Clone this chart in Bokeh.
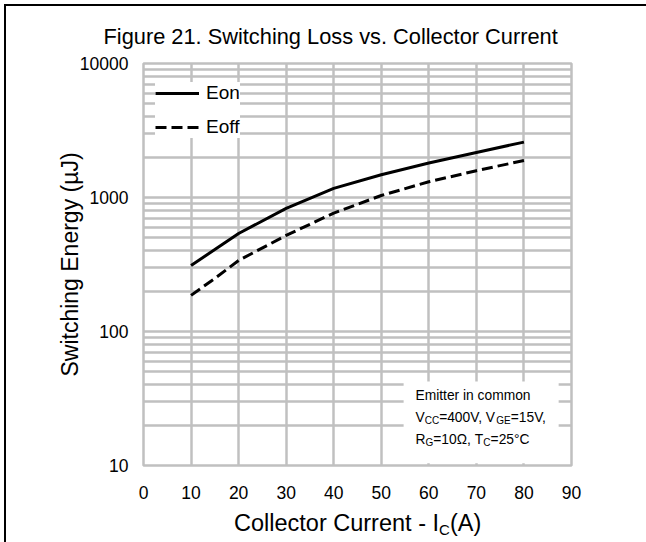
from bokeh.plotting import figure
from bokeh.layouts import column
from bokeh.models import (FixedTicker, PrintfTickFormatter, Label, BoxAnnotation,
                          Range1d, Div)
from bokeh.embed import file_html
from bokeh.resources import INLINE

# Switching energy vs collector current (V_CC=400V, V_GE=15V, R_G=10 ohm, T_C=25 C)
current_a = [10, 15, 20, 30, 40, 50, 60, 70, 80]
eon_uj = [311, 409, 539, 830, 1170, 1480, 1810, 2170, 2590]
eoff_uj = [186, 249, 339, 521, 765, 1035, 1310, 1585, 1888]

x_ticks = [0, 10, 20, 30, 40, 50, 60, 70, 80, 90]
y_ticks = [10, 100, 1000, 10000]
y_minor = [m * d for d in (10, 100, 1000) for m in range(2, 10)]

FONT = "Liberation Sans"
GRID = "#c0c0c0"

# page geometry (pixels)
LEFT, RIGHT, TOP, BOTTOM = 143, 571, 63, 465
PAGE_W, PAGE_H = 646, 542
H_FIG = 505
H_XTITLE = PAGE_H - H_FIG      # strip under the plot holding the x-axis title

p = figure(width=PAGE_W, height=H_FIG, x_range=Range1d(0, 90), y_range=Range1d(10, 10000),
           y_axis_type="log", output_backend="svg", toolbar_location=None,
           min_border_left=LEFT, min_border_right=PAGE_W - RIGHT,
           min_border_top=TOP, min_border_bottom=H_FIG - BOTTOM)
p.background_fill_color = "white"
p.border_fill_color = "white"
p.outline_line_color = GRID
p.outline_line_width = 2.5

# title
p.title.text = "Figure 21. Switching Loss vs. Collector Current"
p.title.text_font = FONT
p.title.text_font_size = "21.8px"
p.title.text_font_style = "normal"
p.title.text_color = "black"
p.title.align = "left"
p.title.offset = -40
p.title.standoff = 30

# axes
p.xaxis.ticker = FixedTicker(ticks=x_ticks)
p.yaxis.ticker = FixedTicker(ticks=y_ticks, minor_ticks=y_minor)
p.yaxis.formatter = PrintfTickFormatter(format="%d")
for ax in (p.xaxis, p.yaxis):
    ax.axis_line_color = None
    ax.major_tick_line_color = None
    ax.minor_tick_line_color = None
    ax.major_label_text_font = FONT
    ax.major_label_text_font_size = "17.5px"
    ax.major_label_text_color = "black"
p.xaxis.major_label_standoff = 14
p.yaxis.major_label_standoff = 9
p.yaxis.axis_label = "Switching Energy (\u00b5J)"
p.yaxis.axis_label_text_font = FONT
p.yaxis.axis_label_text_font_size = "23px"
p.yaxis.axis_label_text_font_style = "normal"
p.yaxis.axis_label_text_color = "black"
p.yaxis.axis_label_standoff = -6

# grid
p.xgrid.ticker = FixedTicker(ticks=x_ticks)
p.ygrid.ticker = FixedTicker(ticks=y_ticks, minor_ticks=y_minor)
p.xgrid.grid_line_color = GRID
p.xgrid.grid_line_width = 2.5
p.ygrid.grid_line_color = GRID
p.ygrid.grid_line_width = 2.5
p.ygrid.minor_grid_line_color = GRID
p.ygrid.minor_grid_line_width = 2.5

# curves
p.line(current_a, eon_uj, line_color="black", line_width=3, legend_label="Eon")
p.line(current_a, eoff_uj, line_color="black", line_width=3, line_dash="11 5",
       legend_label="Eoff")

leg = p.legend[0]
leg.location = (12, 327)
leg.label_text_font = FONT
leg.label_text_font_size = "19px"
leg.label_text_color = "black"
leg.glyph_width = 44
leg.glyph_height = 20
leg.label_height = 20
leg.spacing = 12
leg.padding = 6
leg.margin = 0
leg.label_standoff = 7
leg.border_line_color = None
leg.background_fill_color = "white"
leg.background_fill_alpha = 1.0

# Arial / Liberation Sans advance widths (per 1000 em)
ADV = {" ": 278, "E": 667, "m": 833, "i": 222, "t": 278, "e": 556, "r": 333, "n": 556,
       "c": 500, "o": 556, "V": 667, "C": 722, "=": 584, ",": 278, "G": 778, "R": 722,
       "\u03a9": 768, "T": 611, "\u00b0": 400, "l": 222, "-": 333, "I": 278, "(": 333,
       ")": 333, "A": 667, "u": 556}


def text_width(s, size):
    return sum(ADV.get(ch, 556) for ch in s) * size / 1000.0


def put_runs(runs, x_px, baseline_px):
    """Draw one line of text made of (text, size, drop) runs; drop lowers a subscript."""
    x = x_px
    for t, s, drop in runs:
        p.add_layout(Label(x=0, y=10, x_offset=x - LEFT, y_offset=BOTTOM - (baseline_px + drop),
                           text=t, text_font=FONT, text_font_size=f"{s}px",
                           text_baseline="alphabetic", text_align="left",
                           text_color="black"))
        x += text_width(t, s)


# test-condition box
p.add_layout(BoxAnnotation(left=54.7, right=87.3, bottom=10.4, top=42.4,
                           fill_color="white", fill_alpha=1.0, line_color=None))
A = 13.8
S = 10
put_runs([("Emitter in common", A, 0)], 415, 395)
put_runs([("V", A, 0), ("CC", S, 3), ("=400V, V", A, 0), ("GE", S, 3), ("=15V,", A, 0)], 415, 417)
put_runs([("R", A, 0), ("G", S, 3), ("=10\u03a9, T", A, 0), ("C", S, 3), ("=25\u00b0C", A, 0)], 415, 439)

# x-axis title with subscript, plus the page rules along the top and left edges
# (fixed-position strips, so they add nothing to the page's size)
XT = 23.5
xt_width = text_width("Collector Current - I", XT) + text_width("C", 15) + text_width("(A)", XT)
rule_css = "position:fixed; background:#000; z-index:10; pointer-events:none;"
x_title = Div(
    text=("Collector Current - I"
          "<span style='font-size:15px; position:relative; top:4px;'>C</span>(A)"
          f"<div style='{rule_css} left:4px; top:4px; width:642px; height:2px;'></div>"
          f"<div style='{rule_css} left:4px; top:4px; width:2px; height:538px;'></div>"),
    width=PAGE_W, height=H_XTITLE, margin=0,
    styles={"font-family": FONT, "font-size": f"{XT}px", "color": "black",
            "line-height": f"{H_XTITLE}px",
            "padding-left": f"{358 - xt_width / 2:.0f}px",
            "background": "white", "white-space": "nowrap", "box-sizing": "border-box"},
)

layout = column(p, x_title, spacing=0)
open("out.html", "w").write(file_html(layout, INLINE))
